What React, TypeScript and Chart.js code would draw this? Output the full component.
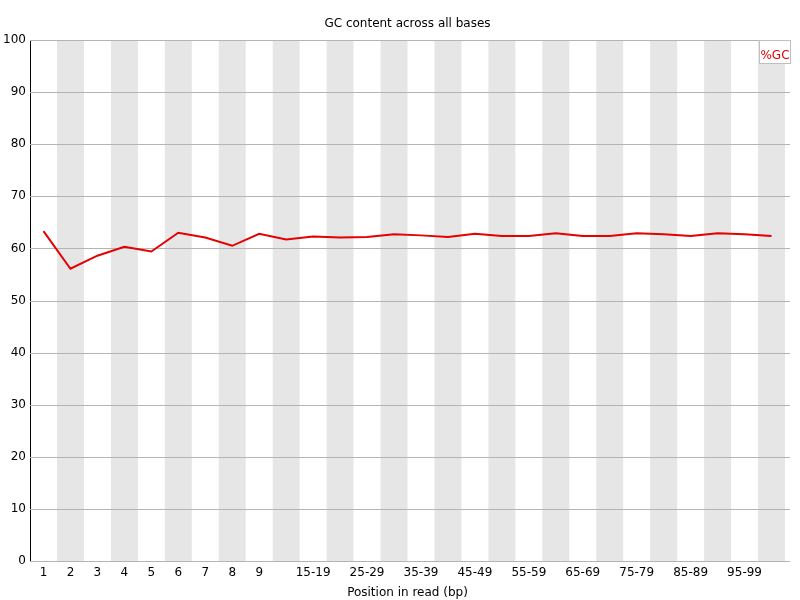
import React, { useEffect, useRef } from 'react';
import Chart from 'chart.js/auto';

const positions = [
  '1', '2', '3', '4', '5', '6', '7', '8', '9',
  '10-14', '15-19', '20-24', '25-29', '30-34', '35-39', '40-44', '45-49',
  '50-54', '55-59', '60-64', '65-69', '70-74', '75-79', '80-84', '85-89',
  '90-94', '95-99', '100-101',
];

const gcPercent = [
  63.3, 56.1, 58.6, 60.3, 59.4, 63.0, 62.1, 60.5, 62.8, 61.7,
  62.3, 62.1, 62.2, 62.7, 62.5, 62.2, 62.8, 62.4, 62.4, 62.9,
  62.4, 62.4, 62.9, 62.7, 62.4, 62.9, 62.7, 62.4,
];

const hiddenLabels = ['10-14', '20-24', '30-34', '40-44', '50-54', '60-64', '70-74', '80-84', '90-94', '100-101'];

const FONT = '"DejaVu Sans", sans-serif';

const stripes = {
  id: 'stripes',
  beforeDatasetsDraw(chart) {
    const { ctx, chartArea, scales } = chart;
    const x = scales.x;
    const w = chartArea.width / positions.length;
    ctx.save();
    ctx.fillStyle = '#e6e6e6';
    positions.forEach((p, i) => {
      if (i % 2 === 1) {
        const cx = x.getPixelForValue(i);
        ctx.fillRect(cx - w / 2, chartArea.top, w, chartArea.bottom - chartArea.top);
      }
    });
    // horizontal grid over the stripes
    const y = scales.y;
    ctx.strokeStyle = '#b4b4b4';
    ctx.lineWidth = 1;
    y.ticks.forEach((t) => {
      const py = Math.round(y.getPixelForValue(t.value)) + 0.5;
      ctx.beginPath();
      ctx.moveTo(chartArea.left, py);
      ctx.lineTo(chartArea.right + 5, py);
      ctx.stroke();
    });
    ctx.restore();
  },
};

const decorations = {
  id: 'decorations',
  afterDraw(chart) {
    const { ctx, chartArea } = chart;
    ctx.save();
    ctx.font = `12px ${FONT}`;
    ctx.fillStyle = '#000';
    ctx.textAlign = 'center';
    ctx.textBaseline = 'middle';
    ctx.fillText('GC content across all bases', (chartArea.left + chartArea.right) / 2, 24);

    // legend box
    const bx = 759.5, by = 40.5, bw = 31, bh = 23;
    ctx.fillStyle = '#fff';
    ctx.fillRect(bx, by, bw, bh);
    ctx.strokeStyle = '#c0c0c0';
    ctx.lineWidth = 1;
    ctx.strokeRect(bx, by, bw, bh);
    ctx.fillStyle = '#e00000';
    ctx.font = `12px ${FONT}`;
    ctx.fillText('%GC', bx + bw / 2, by + 15);
    ctx.restore();
  },
};

const GcContentChart = () => {
  const chartRef = useRef(null);

  useEffect(() => {
    document.body.style.margin = '0';
    if (chartRef.current) {
      const myChart = new Chart(chartRef.current, {
        type: 'line',
        data: {
          labels: positions,
          datasets: [
            {
              label: '%GC',
              data: gcPercent,
              borderColor: '#e60000',
              borderWidth: 2,
              pointRadius: 0,
              tension: 0,
            },
          ],
        },
        options: {
          animation: false,
          responsive: false,
          layout: { padding: { top: 40, right: 15, left: 0, bottom: 0 } },
          plugins: {
            legend: { display: false },
            title: { display: false },
            tooltip: { enabled: false },
          },
          scales: {
            x: {
              offset: true,
              grid: { display: false, drawTicks: false },
              border: { color: '#b0b0b0' },
              ticks: {
                autoSkip: false,
                maxRotation: 0,
                color: '#000',
                padding: 5,
                font: { family: FONT, size: 12 },
                callback: (v, i) => (hiddenLabels.includes(positions[i]) ? '' : positions[i]),
              },
              title: {
                display: true,
                text: 'Position in read (bp)',
                color: '#000',
                font: { family: FONT, size: 12 },
                padding: { top: 2, bottom: 0 },
              },
              afterFit: (axis) => {
                axis.height = 39;
              },
            },
            y: {
              min: 0,
              max: 100,
              grid: { display: false, drawTicks: false },
              border: { color: '#000', width: 1 },
              ticks: {
                stepSize: 10,
                color: '#000',
                padding: 4,
                font: { family: FONT, size: 12 },
              },
              afterFit: (axis) => {
                axis.width = 30;
              },
            },
          },
        },
        plugins: [stripes, decorations],
      });

      return () => {
        myChart.destroy();
      };
    }
  }, []);

  return <canvas ref={chartRef} width={800} height={600} />;
};

export default function App() {
  return <GcContentChart />;
}
